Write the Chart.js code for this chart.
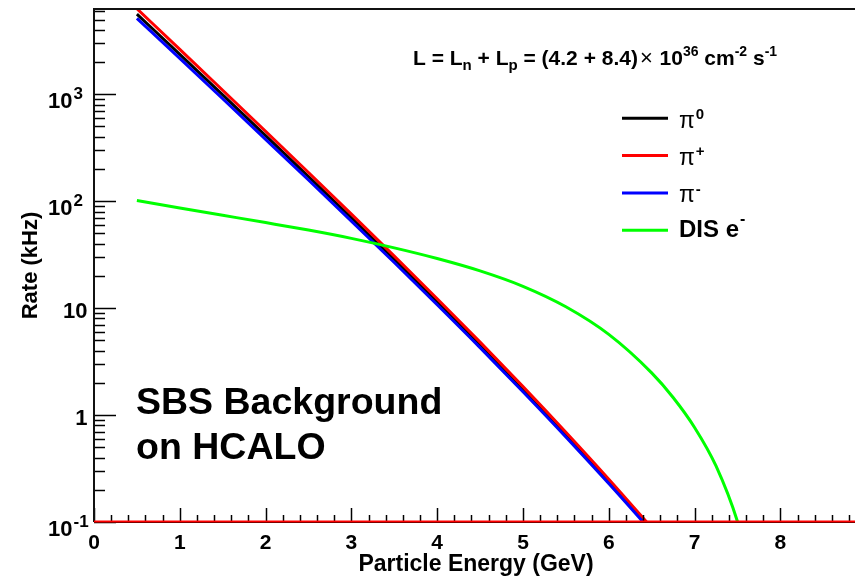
<!DOCTYPE html>
<html>
<head>
<meta charset="utf-8">
<title>SBS Background on HCALO</title>
<script src="https://cdn.jsdelivr.net/npm/chart.js@4.4.1/dist/chart.umd.min.js"></script>
<style>
  html, body { margin: 0; padding: 0; background: #ffffff; }
  #wrap { width: 855px; height: 577px; position: relative; }
</style>
</head>
<body>
<div id="wrap"><canvas id="rateChart" width="855" height="577"></canvas></div>
<script>
// Particle energy (GeV) and rates (kHz) on HCALO
const energyPion  = [0.5, 1.0, 1.5, 2.0, 2.5, 3.0, 3.5, 4.0, 4.5, 5.0, 5.5, 6.0, 6.5];
const ratePi0     = [5623, 2360, 986, 410, 170, 69.8, 28.4, 11.43, 4.51, 1.738, 0.653, 0.238, 0.0843];
const ratePiPlus  = [6310, 2630, 1091, 451, 185.4, 75.7, 30.6, 12.25, 4.81, 1.845, 0.690, 0.251, 0.0883];
const ratePiMinus = [5129, 2163, 908, 379, 157.8, 65.2, 26.7, 10.76, 4.27, 1.652, 0.624, 0.2286, 0.0813];

const energyDIS = [0.5, 1.0, 1.5, 2.0, 2.5, 3.0, 3.5, 4.0, 4.5, 5.0, 5.5, 6.0, 6.5, 6.75, 7.0, 7.25, 7.5, 7.6];
const rateDIS   = [101.4, 86.3, 73.8, 63.1, 53.7, 44.9, 36.6, 29.1, 22.3, 16.0, 10.3, 5.68, 2.48, 1.46, 0.766, 0.334, 0.101, 0.050];

// Axis ranges and tick labels
const xRange = [0, 8.87];
const yRange = [0.1, 6270];
const xTickValues = [0, 1, 2, 3, 4, 5, 6, 7, 8];
const xTickLabels = ['0', '1', '2', '3', '4', '5', '6', '7', '8'];
const yTickValues = [0.1, 1, 10, 100, 1000];
const yTickBases  = ['10', '1', '10', '10', '10'];
const yTickExps   = ['-1', '', '', '2', '3'];

// Legend entries: symbol, superscript
const legendNames = [['\u03C0', '0'], ['\u03C0', '+'], ['\u03C0', '-'], ['DIS e', '-']];

const FONT = '"Liberation Sans", Arial, Helvetica, sans-serif';
const bold = s => 'bold ' + s + 'px ' + FONT;
const plain = s => s + 'px ' + FONT;

function pairs(xs, ys) { return xs.map((x, i) => ({ x: x, y: ys[i] })); }

// Draw a sequence of text runs [text, font, dy, extraSpace] starting at x
function drawRuns(ctx, x, y, parts, align) {
  let w = 0;
  parts.forEach(p => { ctx.font = p[1]; w += ctx.measureText(p[0]).width + (p[3] || 0); });
  let cx = align === 'right' ? x - w : (align === 'center' ? x - w / 2 : x);
  parts.forEach(p => {
    ctx.font = p[1];
    ctx.fillText(p[0], cx, y + (p[2] || 0));
    cx += ctx.measureText(p[0]).width + (p[3] || 0);
  });
}

const framePlugin = {
  id: 'rootFrame',
  afterDraw(chart) {
    const ctx = chart.ctx;
    const xs = chart.scales.x, ys = chart.scales.y;
    const a = chart.chartArea;
    ctx.save();
    ctx.fillStyle = '#000';
    ctx.strokeStyle = '#000';
    ctx.textAlign = 'left';
    ctx.textBaseline = 'alphabetic';

    // y ticks (log decades and sub-decades)
    ctx.lineWidth = 1.5;
    for (let e = -1; e <= 3; e++) {
      for (let k = 1; k <= 9; k++) {
        const v = k * Math.pow(10, e);
        if (v > yRange[1]) continue;
        const py = Math.round(ys.getPixelForValue(v)) + 0.5;
        const len = k === 1 ? 22 : 11;
        ctx.beginPath(); ctx.moveTo(a.left, py); ctx.lineTo(a.left + len, py); ctx.stroke();
      }
    }
    // x ticks
    for (let i = 0; i * 0.2 <= xRange[1] + 1e-9; i++) {
      const v = i * 0.2;
      const px = Math.round(xs.getPixelForValue(v)) + 0.5;
      const len = i % 5 === 0 ? 14 : 7;
      ctx.beginPath(); ctx.moveTo(px, a.bottom); ctx.lineTo(px, a.bottom - len); ctx.stroke();
    }

    // frame
    ctx.lineWidth = 2;
    ctx.strokeStyle = '#111';
    ctx.beginPath();
    ctx.moveTo(a.left, a.bottom); ctx.lineTo(a.left, a.top); ctx.lineTo(a.right, a.top);
    ctx.stroke();
    ctx.strokeStyle = '#000';
    ctx.beginPath(); ctx.moveTo(a.left, a.bottom); ctx.lineTo(a.right, a.bottom); ctx.stroke();
    ctx.strokeStyle = '#ff0000';
    ctx.beginPath(); ctx.moveTo(a.left, a.bottom - 0.5); ctx.lineTo(a.right, a.bottom - 0.5); ctx.stroke();

    // y tick labels
    yTickValues.forEach((v, i) => {
      const py = ys.getPixelForValue(v);
      if (yTickExps[i]) {
        ctx.font = bold(22);
        ctx.textAlign = 'right';
        ctx.fillText(yTickBases[i], 72.5, py + 14);
        ctx.textAlign = 'left';
        ctx.font = bold(17);
        ctx.fillText(yTickExps[i], 73.5, py + 5);
      } else {
        ctx.font = bold(22);
        ctx.textAlign = 'right';
        ctx.fillText(yTickBases[i], 87.5, py + 10);
      }
    });

    // x tick labels
    ctx.textAlign = 'center';
    ctx.font = bold(21);
    xTickValues.forEach((v, i) => {
      ctx.fillText(xTickLabels[i], xs.getPixelForValue(v), a.bottom + 27);
    });

    // axis titles
    ctx.font = bold(23);
    ctx.fillText('Particle Energy (GeV)', 476, 571);
    ctx.font = bold(22);
    ctx.save();
    ctx.translate(37, (a.top + a.bottom) / 2);
    ctx.rotate(-Math.PI / 2);
    ctx.fillText('Rate (kHz)', 0, 0);
    ctx.restore();

    // luminosity
    ctx.textAlign = 'left';
    drawRuns(ctx, 413, 65, [
      ['L = L', bold(21)], ['n', bold(15), 4.5], [' + L', bold(21)], ['p', bold(15), 4.5],
      [' = (4.2 + 8.4)', bold(21), 0, 2], ['\u00D7', plain(22), 0, 1], [' 10', bold(21)], ['36', bold(14), -9.5],
      [' cm', bold(21)], ['-2', bold(14), -9.5], [' s', bold(21)], ['-1', bold(14), -9.5]
    ], 'left');

    // legend
    chart.data.datasets.forEach((ds, i) => {
      const ry = 118.3 + i * 37.3;
      ctx.strokeStyle = ds.borderColor;
      ctx.lineWidth = 3;
      ctx.beginPath(); ctx.moveTo(622, ry); ctx.lineTo(668, ry); ctx.stroke();
      const n = legendNames[i];
      if (n[0] === '\u03C0') {
        drawRuns(ctx, 679, ry + 9.3, [[n[0], plain(23), 0, 1], [n[1], bold(15), -8.5]], 'left');
      } else {
        drawRuns(ctx, 679, ry + 7, [[n[0], bold(24), 0, 1], [n[1], bold(16), -13]], 'left');
      }
    });

    // caption
    ctx.font = bold(37.5);
    ctx.fillText('SBS Background', 136, 414);
    ctx.fillText('on HCALO', 136, 459);
    ctx.restore();
  }
};

new Chart(document.getElementById('rateChart'), {
  type: 'line',
  data: {
    datasets: [
      { label: 'pi0',   data: pairs(energyPion, ratePi0),     borderColor: '#000000', order: 3 },
      { label: 'pi+',   data: pairs(energyPion, ratePiPlus),  borderColor: '#ff0000', order: 2 },
      { label: 'pi-',   data: pairs(energyPion, ratePiMinus), borderColor: '#0000ff', order: 1 },
      { label: 'DIS e-', data: pairs(energyDIS, rateDIS),     borderColor: '#00ff00', order: 0 }
    ]
  },
  options: {
    responsive: false,
    animation: false,
    devicePixelRatio: 1,
    layout: { padding: { left: 94, top: 9, right: 0, bottom: 55 } },
    plugins: { legend: { display: false }, tooltip: { enabled: false } },
    elements: {
      point: { radius: 0 },
      line: { borderWidth: 3, cubicInterpolationMode: 'monotone', fill: false }
    },
    scales: {
      x: { type: 'linear', min: xRange[0], max: xRange[1], display: false },
      y: { type: 'logarithmic', min: yRange[0], max: yRange[1], display: false }
    }
  },
  plugins: [framePlugin]
});
</script>
</body>
</html>
